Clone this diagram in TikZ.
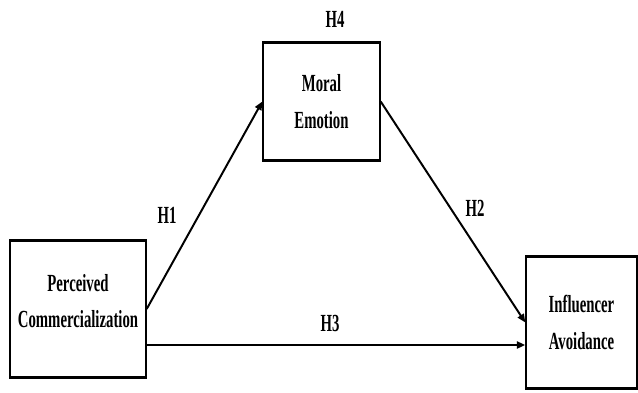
\documentclass[tikz,border=0pt]{standalone}
\usepackage{fontspec}
\setmainfont{Liberation Serif}[FakeStretch=0.6]
\usetikzlibrary{arrows.meta, positioning}
\tikzset{
  cbox/.style={draw, line width=1pt, align=center, inner sep=0pt,
               font=\fontsize{17.5}{26}\selectfont\bfseries,
               append after command={
                 (\tikzlastnode.north west) edge[line width=2.2pt] (\tikzlastnode.north east)
                 (\tikzlastnode.south west) edge[line width=2.2pt] (\tikzlastnode.south east)}},
  hlbl/.style={font=\fontsize{17.5}{20}\selectfont\bfseries, inner sep=0pt},
  arr/.style={-{Triangle[length=6pt,width=5pt]}, line width=1.4pt},
}

\begin{document}
\begin{tikzpicture}
  \useasboundingbox (0,0) rectangle (15.95,9.8);

  % the three constructs
  \node[cbox, minimum width=3.4cm, minimum height=3.4cm]
    (pc) at (1.95,2.075) {Perceived\\Commercialization\rule[-0.4cm]{0pt}{0pt}};
  \node[cbox, minimum width=2.925cm, minimum height=2.925cm]
    (me) at (8.0375,7.2625) {Moral\\Emotion};
  \node[cbox, minimum width=2.775cm, minimum height=3.275cm]
    (ia) at (14.5375,1.7375) {Influencer\\Avoidance};

  % paths
  \draw[arr] (pc.east) -- (me.west);
  \draw[arr] (me.east) -- (ia.west);
  \draw[arr, line width=2pt] ([yshift=-0.9cm]pc.east) -- ([yshift=-0.9cm]pc.east -| ia.west);

  % hypotheses
  \node[hlbl] (h1) at (4.175,4.425) {H1};
  \node[hlbl] (h2) at (11.875,4.6) {H2};
  \node[hlbl] (h3) at (8.25,1.725) {H3};
  \node[hlbl] (h4) at (8.375,9.3125) {H4};
\end{tikzpicture}
\end{document}
